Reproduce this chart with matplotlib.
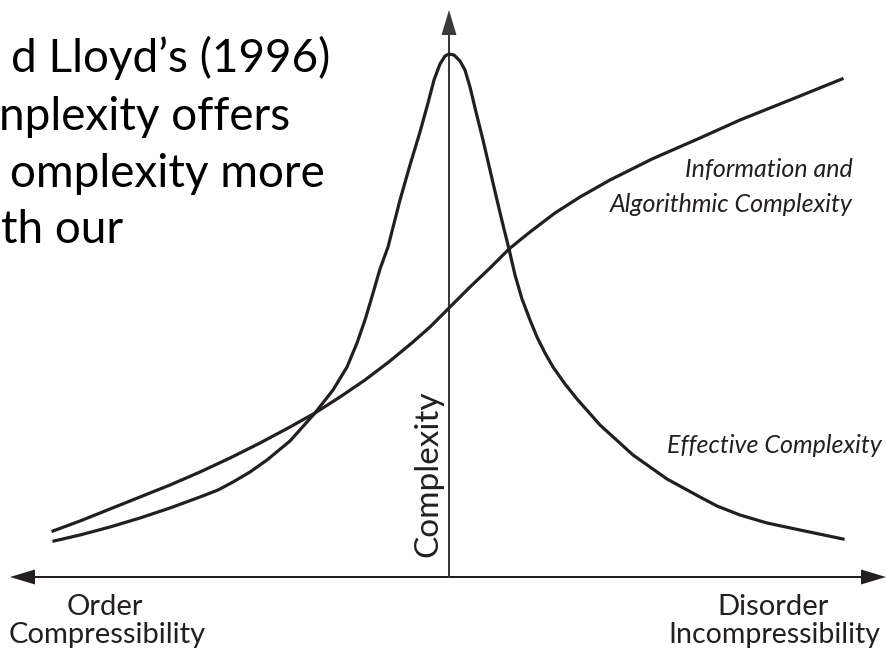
import matplotlib
matplotlib.use("Agg")
import matplotlib.pyplot as plt

# curve readings, in picture pixels (x to the right, y downwards)
effective_x = [54, 80, 110, 140, 170, 200, 218, 233, 250, 267, 290, 315, 333, 347, 357,
               365, 371, 380, 388, 400, 410, 420, 428, 434, 440, 445, 449, 454, 460, 465,
               470, 476, 483, 490, 497, 503, 509, 515, 522, 530, 537, 545, 553, 565, 577,
               600, 633, 667, 700, 717, 740, 767, 800, 843]
effective_y = [541, 535, 527, 518, 508, 497, 490, 482, 472, 460, 441, 413, 390, 367, 343,
               320, 300, 269, 247, 200, 165, 132, 103, 80, 64, 56, 54, 55, 61, 70,
               87, 112, 140, 170, 200, 225, 249, 275, 299, 320, 337, 353, 367, 384, 399,
               425, 455, 479, 497, 506, 515, 523, 530, 539]

info_x = [53, 80, 110, 140, 170, 200, 230, 260, 290, 315, 340, 365, 390, 413, 430,
          449, 470, 490, 509, 530, 555, 580, 610, 652, 700, 740, 790, 842]
info_y = [531, 521, 509, 497, 485, 472, 458, 443, 427, 413, 397, 380, 361, 342, 327,
          308, 287, 268, 249, 232, 213, 197, 180, 159, 138, 120, 100, 79]

# axes of the diagram
origin_x, origin_y = 449, 577
left_end, right_end, top_end = 10, 886, 10

body_lines = ["d Lloyd\u2019s (1996)", "nplexity offers", "omplexity more", "th our"]
body_right = [330, 290, 325, 123]
body_base = [72, 130, 187, 243]

sans = "Lato"
ink = "#231f20"

fig = plt.figure(figsize=(8.87, 6.48), dpi=100)
ax = fig.add_axes([0, 0, 1, 1])
ax.set_xlim(0, 887)
ax.set_ylim(648, 0)
ax.axis("off")

for end in (left_end, right_end):
    ax.arrow(origin_x, origin_y, end - origin_x, 0, width=2, head_width=15,
             head_length=25, length_includes_head=True, color=ink, lw=0)
ax.arrow(origin_x, origin_y, 0, top_end - origin_y, width=2, head_width=15,
         head_length=25, length_includes_head=True, color="#3a3a3a", lw=0)

ax.plot(effective_x, effective_y, color=ink, lw=2.3, solid_joinstyle="round")
ax.plot(info_x, info_y, color=ink, lw=2.3, solid_joinstyle="round")

for txt, xr, yb in zip(body_lines, body_right, body_base):
    ax.text(xr, yb, txt, ha="right", va="baseline", fontsize=33, family=sans, color="black")

ax.text(443, 474, "Complexity", rotation=90, ha="right", va="center",
        fontsize=24, family=sans, color=ink)

ax.text(105, 615, "Order", ha="center", va="baseline", fontsize=21, family=sans, color=ink)
ax.text(107, 643, "Compressibility", ha="center", va="baseline", fontsize=21, family=sans,
        color=ink)
ax.text(773, 615, "Disorder", ha="center", va="baseline", fontsize=21, family=sans, color=ink)
ax.text(774, 643, "Incompressibility", ha="center", va="baseline", fontsize=20.5,
        family=sans, color=ink)

ax.text(853, 177, "Information and", ha="right", va="baseline", fontsize=18,
        family=sans, style="italic", color=ink)
ax.text(853, 212, "Algorithmic Complexity", ha="right", va="baseline", fontsize=18,
        family=sans, style="italic", color=ink)
ax.text(882, 453, "Effective Complexity", ha="right", va="baseline", fontsize=18,
        family=sans, style="italic", color=ink)

fig.savefig("out.png", dpi=100)
